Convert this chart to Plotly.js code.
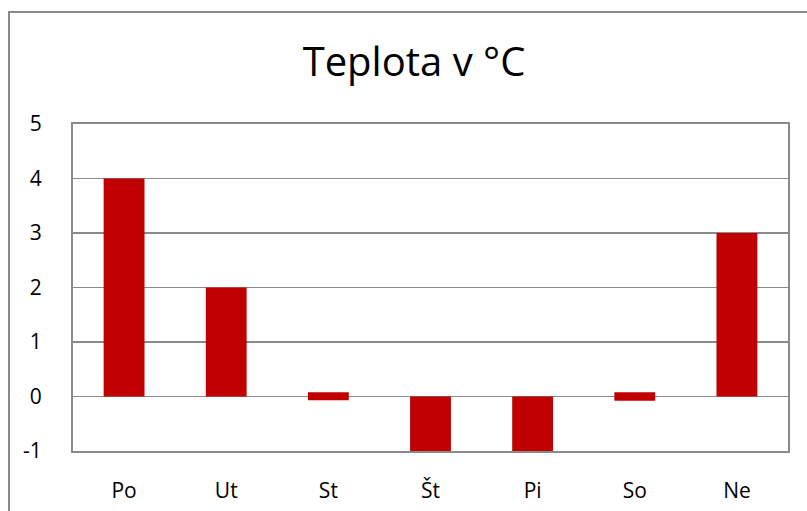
<!DOCTYPE html>
<html><head><meta charset="utf-8">
<script src="https://cdn.plot.ly/plotly-3.0.1.min.js"></script>
<style>
body{margin:0;padding:0;background:#fff;}
#frame{position:absolute;left:8px;top:11px;width:820px;height:520px;border:2px solid #898989;pointer-events:none;z-index:5;}
#chart{position:absolute;left:0;top:0;width:807px;height:511px;}
</style></head>
<body>
<div id="chart"></div><div id="frame"></div>
<script>
const days = ["Po","Ut","St","Št","Pi","So","Ne"];
const barHeights = [4, 2, 0.15, 1, 1, 0.16, 3];
const barBases = [0, 0, -0.07, -1, -1, -0.08, 0];
const yTicks = [-1, 0, 1, 2, 3, 4, 5];
const yTickText = ["-1", "0", "1", "2", "3", "4", "5"];

const fam = 'Open Sans, Liberation Sans, sans-serif';
Plotly.newPlot('chart', [{
  type: 'bar', x: days, y: barHeights, base: barBases,
  marker: {color: '#C00000'}, hoverinfo: 'skip'
}], {
  width: 807, height: 511,
  margin: {l: 73, r: 19, t: 124, b: 60},
  paper_bgcolor: '#fff', plot_bgcolor: '#fff',
  bargap: 0.6,
  showlegend: false,
  title: {text: 'Teplota v °C', x: 0.513, xanchor: 'center', y: 0.878, yanchor: 'middle',
    font: {family: fam, size: 40, color: '#000'}},
  xaxis: {showgrid: false, zeroline: false, showline: true, mirror: true,
    linecolor: '#8a8a8a', linewidth: 2, ticks: '',
    tickfont: {family: fam, size: 21, color: '#000'},
    ticklabelstandoff: 20, fixedrange: true},
  yaxis: {range: [-1, 5], tickvals: yTicks, ticktext: yTickText, showgrid: true, gridcolor: '#8a8a8a', gridwidth: 1.5,
    zeroline: true, zerolinecolor: '#8a8a8a', zerolinewidth: 1.5,
    showline: true, mirror: true, linecolor: '#8a8a8a', linewidth: 2, ticks: '',
    tickfont: {family: fam, size: 21, color: '#000'},
    ticklabelstandoff: 25, fixedrange: true}
}, {displayModeBar: false, staticPlot: true});
</script>
</body></html>
